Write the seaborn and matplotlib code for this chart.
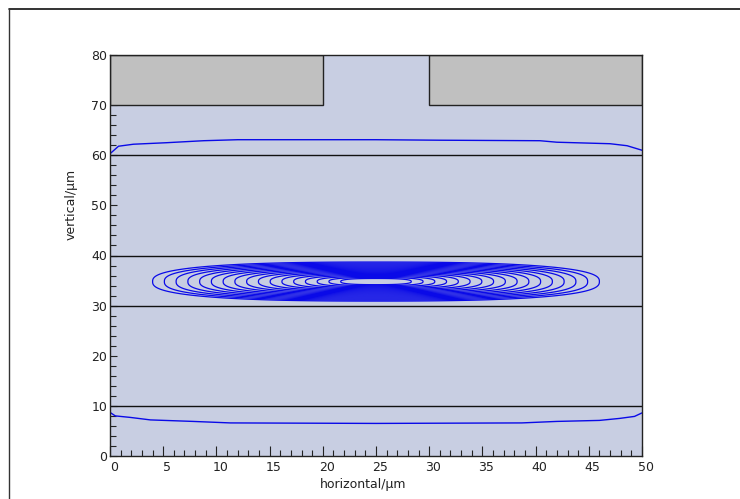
import numpy as np
import matplotlib
matplotlib.use("Agg")
import matplotlib.pyplot as plt
import matplotlib.transforms as mtransforms
from matplotlib.patches import Rectangle
from matplotlib.lines import Line2D
from matplotlib.ticker import MultipleLocator
import seaborn as sns

# ---- device cross-section (µm) ----
layer_interfaces = [10, 30, 40, 60]
electrode_bottom = 70
electrode_top = 80
electrode_spans = [(0, 20), (30, 50)]

# ---- guided mode in the 30-40 µm core ----
mode_center_x = 25.0
mode_center_y = 34.8
mode_half_width = 22.1
mode_half_height = 4.1
mode_shape_power = 2.6
mode_levels = [0.05, 0.10, 0.15, 0.20, 0.25, 0.30, 0.35, 0.40, 0.45,
               0.50, 0.55, 0.60, 0.65, 0.70, 0.75, 0.80, 0.85]

# ---- lowest field contour reaching into the outer layers ----
tail_top_x = [0, 0.8, 2.2, 5.3, 8.8, 12, 25, 31, 40.4, 42, 47, 48.6, 50]
tail_top_y = [60.3, 61.8, 62.2, 62.5, 62.9, 63.1, 63.1, 63.0, 62.9, 62.6, 62.3, 61.9, 61.0]
tail_bottom_x = [0, 0.5, 1.9, 3.8, 7.8, 11.3, 25, 38.7, 42, 46, 47.9, 49.3, 50]
tail_bottom_y = [8.7, 8.0, 7.7, 7.2, 6.9, 6.6, 6.5, 6.6, 6.9, 7.1, 7.5, 7.9, 8.6]

x_range = (0, 50)
y_range = (0, 80)

sns.set_style("white")
plt.rcParams["font.family"] = ["DejaVu Sans"]

W, H, DPI = 740, 499, 100
fig = plt.figure(figsize=(W / DPI, H / DPI), dpi=DPI, facecolor="white")
ax = fig.add_axes([110 / W, 1 - 456 / H, (642 - 110) / W, (456 - 55) / H])
ax.set_facecolor("#c8cee2")

line_blue = "#0a0ae8"

# mode field contours (rounded-rectangle profile)
gx = np.linspace(x_range[0], x_range[1], 1001)
gy = np.linspace(y_range[0], y_range[1], 1601)
X, Y = np.meshgrid(gx, gy)
p = mode_shape_power
field = 1 - (np.abs((X - mode_center_x) / mode_half_width) ** p +
             np.abs((Y - mode_center_y) / mode_half_height) ** p) ** (1 / p)
ax.contour(X, Y, field, levels=mode_levels, colors=line_blue,
           linewidths=0.9, zorder=3)

# outer tail contour
sns.lineplot(x=tail_top_x, y=tail_top_y, color=line_blue, lw=1.0,
             estimator=None, sort=False, ax=ax, zorder=3)
sns.lineplot(x=tail_bottom_x, y=tail_bottom_y, color=line_blue, lw=1.0,
             estimator=None, sort=False, ax=ax, zorder=3)

# layer interfaces
for yv in layer_interfaces:
    ax.axhline(yv, color="#111111", lw=1.0, zorder=2)

# electrodes
for x0, x1 in electrode_spans:
    ax.add_patch(Rectangle((x0, electrode_bottom), x1 - x0,
                           electrode_top - electrode_bottom,
                           facecolor="#c0c0c0", edgecolor="#222222",
                           lw=1.0, zorder=4))

ax.set_xlim(*x_range)
ax.set_ylim(*y_range)
ax.xaxis.set_major_locator(MultipleLocator(5))
ax.xaxis.set_minor_locator(MultipleLocator(1))
ax.yaxis.set_major_locator(MultipleLocator(10))
ax.yaxis.set_minor_locator(MultipleLocator(2))
ax.tick_params(which="both", direction="in", bottom=True, left=True,
               top=False, right=False, color="#222222", width=0.8,
               labelsize=9, labelcolor="#222222")
ax.tick_params(axis="x", which="major", length=7, pad=3.5)
ax.tick_params(axis="x", which="minor", length=4.3)
ax.tick_params(axis="y", which="major", length=5, pad=2)
ax.tick_params(axis="y", which="minor", length=4.5)

shift = mtransforms.ScaledTranslation(4 / DPI, 0, fig.dpi_scale_trans)
for lab in ax.get_xticklabels():
    lab.set_transform(lab.get_transform() + shift)

for sp in ax.spines.values():
    sp.set_color("#222222")
    sp.set_linewidth(1.0)
    sp.set_zorder(5)

ax.set_xlabel("horizontal/μm", fontsize=9, color="#222222")
ax.set_ylabel("vertical/μm", fontsize=9, color="#222222")
ax.xaxis.set_label_coords((363 - 110) / 532, (456 - 478) / 401)
ax.yaxis.set_label_coords((78 - 110) / 532, (456 - 204) / 401)

# outer frame of the picture
fig.add_artist(Line2D([9 / W, 1], [1 - 9 / H, 1 - 9 / H],
                      transform=fig.transFigure, color="#111111", lw=1.2))
fig.add_artist(Line2D([9 / W, 9 / W], [0, 1 - 9 / H],
                      transform=fig.transFigure, color="#333333", lw=1.0))

fig.savefig("out.png", dpi=DPI, facecolor="white")
